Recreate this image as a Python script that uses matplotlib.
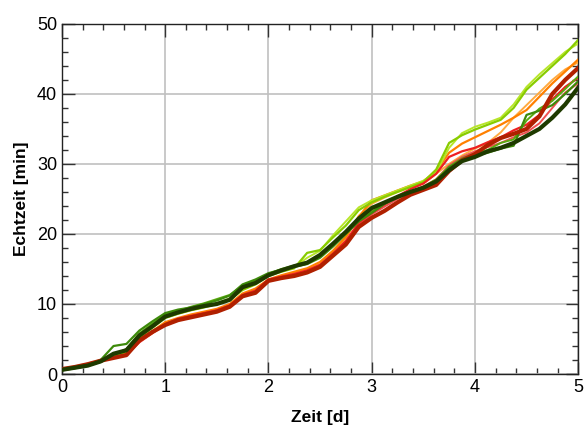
import numpy as np
import matplotlib
matplotlib.use("Agg")
import matplotlib.pyplot as plt

plt.rcParams['font.family'] = ['Liberation Sans', 'DejaVu Sans']

# common time grid (days), step 0.125
X = np.linspace(0, 5, 41)

dark_green = [0.6, 0.9, 1.2, 1.8, 2.9, 3.4, 5.5, 6.8, 8.2, 8.8, 9.3, 9.7, 10.0, 10.6, 12.4, 13.0,
              14.1, 14.8, 15.4, 15.9, 17.0, 18.6, 20.3, 22.2, 23.7, 24.5, 25.3, 26.0, 26.6, 27.5,
              29.1, 30.4, 31.0, 31.8, 32.3, 33.0, 34.0, 35.0, 36.6, 38.5, 40.9]
dark_red = [0.7, 1.0, 1.4, 1.9, 2.3, 2.7, 4.8, 6.0, 7.0, 7.7, 8.1, 8.5, 8.9, 9.6, 11.1, 11.6,
            13.3, 13.7, 14.0, 14.5, 15.3, 16.9, 18.5, 21.0, 22.3, 23.3, 24.5, 25.6, 26.3, 27.0,
            29.0, 30.5, 31.4, 32.7, 33.7, 34.3, 35.0, 36.8, 40.0, 42.0, 43.7]
green = [0.6, 0.9, 1.3, 2.0, 4.0, 4.3, 6.2, 7.5, 8.7, 9.2, 9.5, 10.0, 10.5, 11.2, 12.8, 13.5,
         14.4, 14.9, 15.3, 15.7, 16.6, 18.2, 20.0, 21.8, 23.0, 24.3, 25.2, 25.9, 26.5, 27.4,
         29.5, 30.6, 31.2, 31.6, 32.2, 32.6, 37.0, 37.6, 38.4, 40.0, 41.8]
green2 = [0.5, 0.8, 1.2, 1.7, 2.6, 3.6, 5.8, 7.2, 8.5, 9.0, 9.6, 10.1, 10.7, 11.3, 12.6, 13.3,
          14.3, 15.0, 15.5, 16.0, 16.9, 18.4, 20.1, 22.0, 23.2, 24.4, 25.4, 26.1, 26.7, 27.8,
          29.6, 30.8, 31.5, 32.0, 33.0, 33.5, 36.2, 37.9, 39.0, 40.7, 42.5]
light_green = [0.6, 0.9, 1.3, 1.9, 2.6, 3.2, 5.2, 6.6, 8.0, 8.6, 9.1, 9.5, 10.0, 10.6, 12.0, 12.8,
               14.0, 14.6, 15.1, 17.3, 17.7, 19.5, 21.2, 23.4, 24.5, 25.3, 26.0, 26.7, 27.4, 29.2,
               33.0, 34.1, 34.9, 35.6, 36.3, 38.0, 40.6, 42.3, 44.0, 45.7, 47.7]
yellow_green = [0.7, 1.0, 1.4, 2.0, 2.7, 3.3, 5.4, 6.7, 8.1, 8.7, 9.2, 9.6, 10.1, 10.8, 12.2, 13.0,
                14.1, 14.7, 15.2, 16.6, 17.6, 19.8, 21.8, 23.8, 24.8, 25.5, 26.2, 26.9, 27.6, 28.8,
                32.3, 34.4, 35.3, 35.9, 36.6, 38.5, 41.0, 42.8, 44.4, 46.0, 47.2]
orange = [0.7, 1.0, 1.4, 1.9, 2.4, 2.9, 4.9, 6.1, 7.4, 8.0, 8.5, 8.9, 9.3, 10.0, 11.5, 12.2,
          13.5, 14.1, 14.6, 15.1, 16.0, 17.6, 19.6, 22.4, 24.8, 25.5, 26.2, 26.9, 27.5, 29.0,
          31.6, 32.9, 33.8, 34.7, 35.6, 36.6, 37.7, 39.6, 41.5, 43.2, 44.9]
light_orange = [0.8, 1.1, 1.5, 2.0, 2.5, 3.0, 4.6, 5.8, 7.2, 7.9, 8.4, 8.8, 9.2, 9.9, 11.3, 12.0,
                13.4, 13.9, 14.4, 14.9, 15.7, 17.4, 19.4, 22.6, 24.3, 25.2, 26.0, 26.7, 27.2, 28.6,
                30.0, 31.2, 32.2, 33.0, 34.5, 36.6, 38.4, 40.2, 42.0, 43.5, 44.5]
red = [0.7, 1.0, 1.4, 1.9, 2.4, 2.8, 4.6, 5.9, 7.1, 7.9, 8.3, 8.7, 9.1, 9.8, 11.3, 11.9,
       13.5, 13.9, 14.3, 14.8, 15.6, 17.2, 19.0, 21.6, 23.0, 24.2, 25.4, 26.4, 27.2, 28.6,
       31.0, 31.8, 32.3, 33.1, 33.8, 34.8, 35.6, 37.0, 39.2, 41.0, 42.3]
red2 = [0.6, 0.9, 1.3, 1.8, 2.3, 2.7, 4.5, 5.8, 7.0, 7.8, 8.2, 8.6, 9.0, 9.7, 11.2, 11.8,
        13.4, 13.8, 14.2, 14.6, 15.5, 17.0, 18.8, 21.3, 22.8, 23.9, 25.0, 26.0, 26.8, 27.8,
        29.8, 31.0, 31.8, 32.4, 33.0, 33.8, 34.5, 35.8, 38.0, 40.2, 41.5]

series = [
    (light_orange, '#ffaa40', 1.4),
    (orange, '#ff8000', 1.6),
    (yellow_green, '#b8e62a', 1.4),
    (light_green, '#88cc00', 1.6),
    (red2, '#f05050', 1.4),
    (red, '#ee2020', 1.6),
    (green2, '#5aaa10', 1.4),
    (green, '#3d8a0a', 1.6),
    (dark_red, '#b02000', 3.0),
    (dark_green, '#1e3a00', 3.0),
]

fig = plt.figure(figsize=(5.84, 4.26), dpi=100)
ax = fig.add_axes([0.106, 0.122, 0.884, 0.822])

for vals, col, lw in series:
    ax.plot(X, vals, color=col, lw=lw, solid_joinstyle='round', zorder=3)

ax.set_xlim(0, 5)
ax.set_ylim(0, 50)
ax.set_xticks(np.arange(0, 6, 1))
ax.set_yticks(np.arange(0, 60, 10))
ax.set_xticks(np.arange(0, 5.01, 0.2), minor=True)
ax.set_yticks(np.arange(0, 50.1, 2), minor=True)
ax.grid(True, which='major', color='#c0c0c0', lw=1.2, zorder=0)
ax.tick_params(which='both', direction='in', top=True, right=True, labelsize=13, color='#333333')
ax.tick_params(which='major', length=9, width=1)
ax.tick_params(which='minor', length=4.5, width=1)
for s in ax.spines.values():
    s.set_linewidth(1)
    s.set_color('#222222')

ax.set_xlabel('Zeit [d]', fontsize=12.5, fontweight='bold', labelpad=10)
ax.set_ylabel('Echtzeit [min]', fontsize=12.5, fontweight='bold', labelpad=6)

fig.savefig('out.png', dpi=100)
